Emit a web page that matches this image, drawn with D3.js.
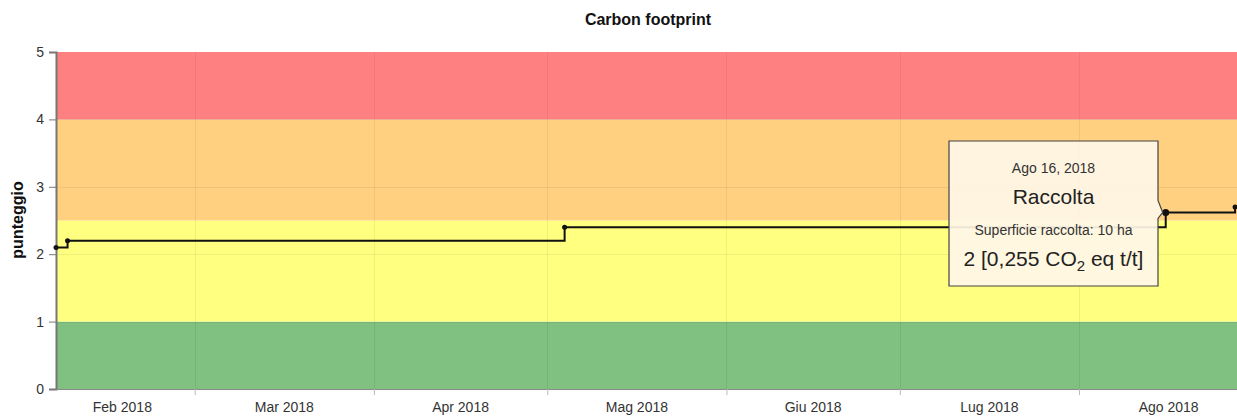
<!DOCTYPE html>
<html>
<head>
<meta charset="utf-8">
<script src="https://cdn.jsdelivr.net/npm/d3@7"></script>
<style>
  html, body { margin: 0; padding: 0; background: #fff; }
  svg { display: block; font-family: "Liberation Sans", Arial, sans-serif; }
</style>
</head>
<body>
<svg id="chart" width="1237" height="416"></svg>
<script>
// ---- data ----
const dates  = ["2018-02-05", "2018-02-07", "2018-05-04", "2018-08-16", "2018-08-28"];
const scores = [2.1, 2.2, 2.4, 2.62, 2.7];
const bandFrom   = [0, 1, 2.5, 4];
const bandTo     = [1, 2.5, 4, 5];
const bandColors = ["#80c080", "#ffff80", "#ffd080", "#ff8080"];
const yTicks = [0, 1, 2, 3, 4, 5];
const monthNames = ["Gen","Feb","Mar","Apr","Mag","Giu","Lug","Ago","Set","Ott","Nov","Dic"];
const tooltipLines = ["Ago 16, 2018", "Raccolta", "Superficie raccolta: 10 ha"];
const tooltipValue = ["2 [0,255 CO", "2", " eq t/t]"];
const tooltipIndex = 3;

// ---- setup ----
const parse = d3.timeParse("%Y-%m-%d");
const pts = dates.map((d, i) => ({ date: parse(d), v: scores[i] }));
const svg = d3.select("#chart");
const pL = 56, pR = 1237, pT = 52, pB = 389;

const x = d3.scaleTime()
  .domain([parse("2018-02-05"), new Date(2018, 7, 28, 8)])
  .range([pL, pR]);
const y = d3.scaleLinear().domain([0, 5]).range([pB, pT]);

// bands
svg.append("g").selectAll("rect").data(bandFrom).join("rect")
  .attr("x", pL).attr("width", pR - pL)
  .attr("y", (d, i) => y(bandTo[i]))
  .attr("height", (d, i) => y(d) - y(bandTo[i]))
  .attr("fill", (d, i) => bandColors[i]);

// grid
const months = d3.timeMonth.range(d3.timeMonth.ceil(x.domain()[0]), x.domain()[1]);
const grid = svg.append("g").attr("stroke", "#000").attr("stroke-opacity", 0.06).attr("stroke-width", 1);
grid.selectAll("line.v").data(months).join("line")
  .attr("x1", d => Math.round(x(d)) + 0.5).attr("x2", d => Math.round(x(d)) + 0.5)
  .attr("y1", pT).attr("y2", pB);
grid.selectAll("line.h").data(yTicks.slice(1, -1)).join("line")
  .attr("x1", pL).attr("x2", pR)
  .attr("y1", d => Math.round(y(d)) + 0.5).attr("y2", d => Math.round(y(d)) + 0.5);

// y axis
const yAxis = svg.append("g").attr("transform", `translate(${pL},0)`)
  .call(d3.axisLeft(y).tickValues(yTicks).tickSize(7).tickPadding(5).tickFormat(d3.format("d")));
yAxis.select(".domain").attr("stroke", "#777").attr("stroke-width", 2);
yAxis.selectAll(".tick line").attr("stroke", "#777");
yAxis.selectAll(".tick text").attr("font-size", 14).attr("fill", "#333")
  .attr("font-family", "'Liberation Sans', Arial, sans-serif");

// x axis
const xAxis = svg.append("g").attr("transform", `translate(0,${pB})`)
  .call(d3.axisBottom(x).tickValues(months).tickSize(6).tickFormat(""));
xAxis.select(".domain").attr("stroke", "#888").attr("stroke-width", 1).attr("d", `M${pL},0.5H${pR}`);
xAxis.selectAll(".tick line").attr("stroke", "#bbb");
const labelMonths = [d3.timeMonth.floor(x.domain()[0])].concat(months);
svg.append("g").selectAll("text").data(labelMonths).join("text")
  .attr("x", (d, i) => {
    const a = Math.max(x(d), pL);
    const b = x(d3.timeMonth.offset(d, 1));
    return (a + b) / 2 - (i === 0 ? 3 : 0);
  })
  .attr("y", 412)
  .attr("text-anchor", "middle").attr("font-size", 14).attr("fill", "#333")
  .text(d => monthNames[d.getMonth()] + " " + d.getFullYear());

// title and y label
svg.append("text").attr("x", 648).attr("y", 25).attr("text-anchor", "middle")
  .attr("font-size", 16).attr("font-weight", "bold").attr("fill", "#111").text("Carbon footprint");
svg.append("text").attr("transform", `translate(23,220) rotate(-90)`).attr("text-anchor", "middle")
  .attr("font-size", 16).attr("font-weight", "bold").attr("fill", "#111").text("punteggio");

// line
const line = d3.line().x(d => x(d.date)).y(d => y(d.v)).curve(d3.curveStepAfter);
svg.append("path").datum(pts).attr("d", line)
  .attr("fill", "none").attr("stroke", "#111").attr("stroke-width", 2);
svg.append("g").selectAll("circle").data(pts).join("circle")
  .attr("cx", d => x(d.date)).attr("cy", d => y(d.v))
  .attr("r", (d, i) => i === tooltipIndex ? 3.5 : 2.5).attr("fill", "#111");

// tooltip
const tp = pts[tooltipIndex];
const tx = x(tp.date), ty = y(tp.v);
const bx0 = 949, bx1 = 1158, by0 = 141, by1 = 286;
const tip = svg.append("g");
tip.append("path")
  .attr("d", `M${bx0},${by0}H${bx1}V${ty - 12}L${tx - 3},${ty}L${bx1},${ty + 6}V${by1}H${bx0}Z`)
  .attr("fill", "#fff6e8").attr("fill-opacity", 0.92)
  .attr("stroke", "#444").attr("stroke-width", 1.2);
const cx = (bx0 + bx1) / 2;
tip.append("text").attr("x", cx).attr("y", 173).attr("text-anchor", "middle")
  .attr("font-size", 14).attr("fill", "#333").text(tooltipLines[0]);
tip.append("text").attr("x", cx).attr("y", 204).attr("text-anchor", "middle")
  .attr("font-size", 21).attr("fill", "#222").text(tooltipLines[1]);
tip.append("text").attr("x", cx).attr("y", 235).attr("text-anchor", "middle")
  .attr("font-size", 14).attr("fill", "#333").text(tooltipLines[2]);
const vt = tip.append("text").attr("x", cx).attr("y", 266).attr("text-anchor", "middle")
  .attr("font-size", 21).attr("fill", "#222");
vt.append("tspan").text(tooltipValue[0]);
vt.append("tspan").attr("font-size", 15).attr("dy", 5).text(tooltipValue[1]);
vt.append("tspan").attr("dy", -5).text(tooltipValue[2]);
</script>
</body>
</html>
